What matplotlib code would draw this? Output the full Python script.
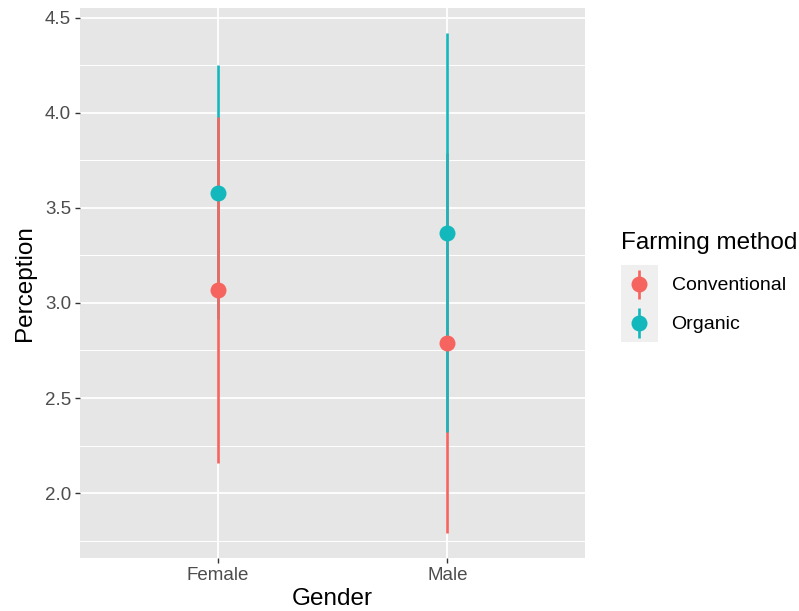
import matplotlib.pyplot as plt
import numpy as np
from matplotlib.lines import Line2D
from matplotlib.patches import Rectangle
from matplotlib.legend_handler import HandlerBase

plt.rcParams['font.family'] = ['Liberation Sans', 'DejaVu Sans']

genders = ['Female', 'Male']
methods = ['Conventional', 'Organic']
colors = {'Conventional': '#F6645F', 'Organic': '#13B8BD'}

# mean and interval bounds
means = {'Conventional': [3.07, 2.79], 'Organic': [3.58, 3.37]}
lower = {'Conventional': [2.16, 1.79], 'Organic': [2.915, 2.32]}
upper = {'Conventional': [3.98, 3.79], 'Organic': [4.25, 4.42]}

# draw order per gender (last one lies on top)
draw_order = {'Female': ['Organic', 'Conventional'], 'Male': ['Conventional', 'Organic']}

LW = 1.9
MS = 11.5


class KeyHandler(HandlerBase):
    # ggplot-like key: grey square, vertical range line and a point
    def create_artists(self, legend, orig_handle, xdescent, ydescent,
                       width, height, fontsize, trans):
        x0, y0 = -xdescent, -ydescent
        c = orig_handle.get_color()
        bg = Rectangle((x0, y0), width, height, facecolor='#EFEFEF',
                       edgecolor='none', transform=trans)
        cx = x0 + width / 2
        ln = Line2D([cx, cx], [y0 + 0.12 * height, y0 + 0.88 * height],
                    color=c, lw=LW, solid_capstyle='butt', transform=trans)
        pt = Line2D([cx], [y0 + height / 2], marker='o', ms=MS, color=c,
                    mec='none', linestyle='none', transform=trans)
        return [bg, ln, pt]


fig = plt.figure(figsize=(7.99, 6.11), dpi=100)
ax = fig.add_axes([80 / 799, 1 - 558 / 611, 505 / 799, 550 / 611])
ax.set_facecolor('#E6E6E6')

x = np.arange(1, len(genders) + 1)
for i, g in enumerate(genders):
    for z, m in enumerate(draw_order[g]):
        ax.plot([x[i], x[i]], [lower[m][i], upper[m][i]], color=colors[m],
                lw=LW, solid_capstyle='butt', zorder=3 + z)
for i, g in enumerate(genders):
    for m in methods:
        ax.plot(x[i], means[m][i], 'o', color=colors[m], ms=MS,
                mec='none', zorder=6)

lo = min(min(v) for v in lower.values())
hi = max(max(v) for v in upper.values())
pad = (hi - lo) * 0.05
ax.set_ylim(lo - pad, hi + pad)
ax.set_xlim(0.4, 2.6)

ax.set_yticks([2.0, 2.5, 3.0, 3.5, 4.0, 4.5])
ax.set_yticklabels(['2.0', '2.5', '3.0', '3.5', '4.0', '4.5'])
ax.set_yticks([1.75, 2.25, 2.75, 3.25, 3.75, 4.25], minor=True)
ax.set_xticks(x)
ax.set_xticklabels(genders)

ax.grid(True, which='major', color='white', lw=1.3, zorder=0)
ax.grid(True, which='minor', axis='y', color='white', lw=0.7, zorder=0)
ax.set_axisbelow(True)
for s in ax.spines.values():
    s.set_visible(False)
ax.tick_params(which='major', length=3.5, width=1, color='#333333',
               labelcolor='#4D4D4D', labelsize=13.5, pad=3)
ax.tick_params(which='minor', length=0)

ax.set_xlabel('Gender', fontsize=17.5, labelpad=3)
ax.set_ylabel('Perception', fontsize=17.5, labelpad=6)

handles = [Line2D([0], [0], color=colors[m]) for m in methods]
leg = fig.legend(handles, methods, title='Farming method',
                 handler_map={Line2D: KeyHandler()},
                 loc='upper left', bbox_to_anchor=(621 / 799, 1 - 232 / 611),
                 frameon=False, fontsize=14, title_fontsize=17.5,
                 handlelength=1.9, handleheight=2.67, handletextpad=0.7,
                 labelspacing=0.0, borderpad=0.0, borderaxespad=0.0)
leg._legend_box.align = 'left'
leg._legend_box.sep = 8

fig.savefig('out.png', dpi=100)
